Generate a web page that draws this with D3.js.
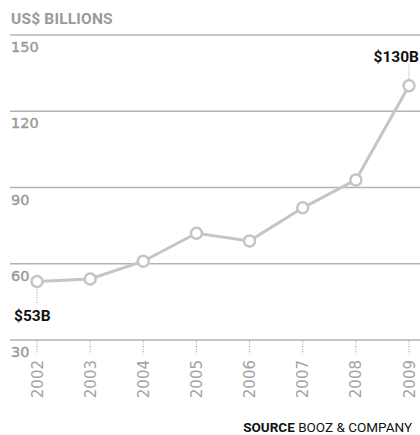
<!DOCTYPE html>
<html>
<head>
<meta charset="utf-8">
<script src="https://cdn.jsdelivr.net/npm/d3@7"></script>
<style>
  body { margin: 0; background: #fff; }
  text { font-family: Roboto, "Liberation Sans", sans-serif; }
</style>
</head>
<body>
<div id="chart"></div>
<script>
// chart data
var years = ["2002", "2003", "2004", "2005", "2006", "2007", "2008", "2009"];
var revenue = [53, 54, 61, 72, 69, 82, 93, 130];
var yTicks = [150, 120, 90, 60, 30];
var firstLabel = "$53B";
var lastLabel = "$130B";

var svgWidth = 420;
var svgHeight = 435;

var svg = d3.select("#chart")
  .append("svg")
  .attr("width", svgWidth)
  .attr("height", svgHeight);

// scales
var xScale = d3.scalePoint()
  .domain(years)
  .range([37, 409]);

var yScale = d3.scaleLinear()
  .domain([30, 150])
  .range([340, 35]);

// unit title
svg.append("text")
  .attr("x", 11)
  .attr("y", 24)
  .attr("fill", "#9a9a9a")
  .attr("font-size", "15.5px")
  .attr("font-weight", "bold")
  .attr("letter-spacing", "0.2px")
  .text("US$ BILLIONS");

// gridlines + tick labels
var grid = svg.append("g");
grid.selectAll("line")
  .data(yTicks)
  .enter()
  .append("line")
  .attr("x1", 10)
  .attr("x2", 420)
  .attr("y1", d => yScale(d))
  .attr("y2", d => yScale(d))
  .attr("stroke", "#b3b3b3")
  .attr("stroke-width", 1.5);

grid.selectAll("text")
  .data(yTicks)
  .enter()
  .append("text")
  .attr("x", 11)
  .attr("y", d => yScale(d) + 17)
  .attr("fill", "#999")
  .attr("stroke", "#999")
  .attr("stroke-width", 0.4)
  .style("font-family", "'DejaVu Sans', sans-serif")
  .attr("font-size", "14.5px")
  .text(d => d);

// dotted year ticks under the axis
svg.append("g").selectAll("line")
  .data(years)
  .enter()
  .append("line")
  .attr("x1", d => xScale(d))
  .attr("x2", d => xScale(d))
  .attr("y1", yScale(30) + 1)
  .attr("y2", yScale(30) + 14)
  .attr("stroke", "#999")
  .attr("stroke-width", 1)
  .attr("stroke-dasharray", "1,1.5");

// year labels, rotated
svg.append("g").selectAll("text")
  .data(years)
  .enter()
  .append("text")
  .attr("transform", d => `translate(${xScale(d) + 5.5}, 360) rotate(-90)`)
  .attr("text-anchor", "end")
  .attr("fill", "#a3a3a3")
  .style("font-family", "'DejaVu Sans', sans-serif")
  .attr("font-size", "15px")
  .text(d => d);

// callout leaders
var n = years.length;
svg.append("line")
  .attr("x1", xScale(years[0]))
  .attr("x2", xScale(years[0]))
  .attr("y1", yScale(revenue[0]) + 8)
  .attr("y2", yScale(revenue[0]) + 23)
  .attr("stroke", "#999")
  .attr("stroke-dasharray", "1,1.5");

svg.append("line")
  .attr("x1", xScale(years[n - 1]))
  .attr("x2", xScale(years[n - 1]))
  .attr("y1", yScale(revenue[n - 1]) - 7)
  .attr("y2", yScale(revenue[n - 1]) - 21)
  .attr("stroke", "#999")
  .attr("stroke-dasharray", "1,1.5");

// line
var line = d3.line()
  .x((d, i) => xScale(years[i]))
  .y(d => yScale(d));

svg.append("path")
  .datum(revenue)
  .attr("d", line)
  .attr("fill", "none")
  .attr("stroke", "#c3c5c7")
  .attr("stroke-width", 3);

svg.append("g").selectAll("circle")
  .data(revenue)
  .enter()
  .append("circle")
  .attr("cx", (d, i) => xScale(years[i]))
  .attr("cy", d => yScale(d))
  .attr("r", 5.5)
  .attr("fill", "#fff")
  .attr("stroke", "#c3c5c7")
  .attr("stroke-width", 2.5);

// value callouts
svg.append("text")
  .attr("x", 14)
  .attr("y", 321)
  .attr("font-size", "15.5px")
  .attr("font-weight", "bold")
  .attr("fill", "#111")
  .text(firstLabel);

svg.append("text")
  .attr("x", 419)
  .attr("y", 62)
  .attr("text-anchor", "end")
  .attr("font-size", "15.5px")
  .attr("font-weight", "bold")
  .attr("fill", "#111")
  .text(lastLabel);

// source note
var source = svg.append("text")
  .attr("x", 412)
  .attr("y", 432)
  .attr("text-anchor", "end")
  .attr("font-size", "13.5px")
  .attr("fill", "#111");
source.append("tspan").attr("font-weight", "bold").text("SOURCE ");
source.append("tspan").text("BOOZ & COMPANY");
</script>
</body>
</html>
